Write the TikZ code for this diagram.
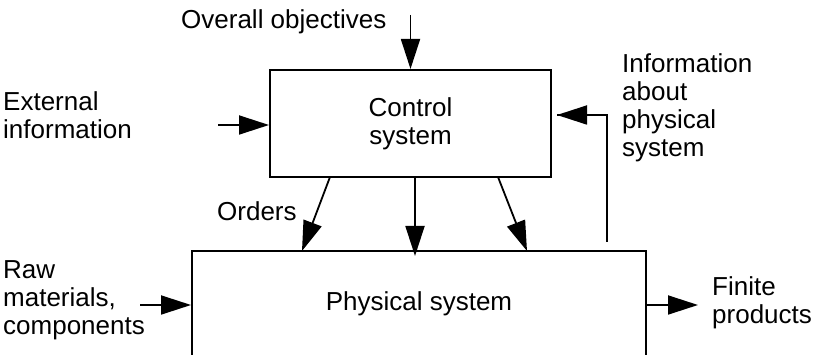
\documentclass[tikz,border=0pt]{standalone}
\usepackage{fontspec}
\setmainfont{Liberation Sans}
\usetikzlibrary{arrows.meta}
\begin{document}
\begin{tikzpicture}[x=1pt,y=-1pt,
  every node/.style={font=\fontsize{26}{28}\selectfont, inner sep=0pt},
  blockbox/.style={draw, line width=2pt, rectangle},
  flow/.style={line width=1.8pt, -{Triangle[length=30pt,width=19pt]}},
  plainline/.style={line width=1.8pt},
  caption/.style={align=left, anchor=base west}]
  \useasboundingbox (0,0) rectangle (815,355);
  \clip (0,0) rectangle (815,355);

  % the two blocks
  \node[blockbox, minimum width=281pt, minimum height=107pt, align=center]
    (ctrl) at (410.5,123.5) {Control\\system};
  \node[blockbox, minimum width=454pt, minimum height=116pt]
    (phys) at (419,309) {};
  \node (physlabel) at (419,304) {Physical system};

  % labels (a multi-line caption sits on the baseline of its last line)
  \node[caption] (objlbl) at (181,29) {Overall objectives};
  \node[caption] (extlbl) at (3,139) {External\\information};
  \node[caption] (fblbl) at (622,157) {Information\\about\\physical\\system};
  \node[caption] (ordlbl) at (217,221) {Orders};
  \node[caption] (rawlbl) at (3,335) {Raw\\materials,\\components};
  \node[caption] (finlbl) at (712,324) {Finite\\products};

  % free ends of the connectors
  \coordinate (objin) at (410.5,15);
  \coordinate (extin) at (218,125);
  \coordinate (rawin) at (140,305);
  \coordinate (finout) at (698,305);
  \coordinate (ordAs) at (330,177);
  \coordinate (ordAt) at (302,251);
  \coordinate (ordBs) at (415,177);
  \coordinate (ordBt) at (415,256);
  \coordinate (ordCs) at (498,177);
  \coordinate (ordCt) at (527,251);
  \coordinate (fbfoot) at (607,242);
  \coordinate (fbcorner) at (607,115);
  \coordinate (fbtip) at (557,115);

  % inputs to the control system
  \draw[flow] (objin) -- (ctrl.north);
  \draw[flow] (extin) -- (ctrl.west |- extin);
  \draw[plainline] (fbfoot) -- (fbcorner) -- (fbtip);
  \draw[flow] (fbcorner) -- (fbtip);

  % orders from control to physical system
  \draw[flow] (ordAs) -- (ordAt);
  \draw[flow] (ordBs) -- (ordBt);
  \draw[flow] (ordCs) -- (ordCt);

  % material flow through the physical system
  \draw[flow] (rawin) -- (phys.west |- rawin);
  \draw[flow] (phys.east |- finout) -- (finout);
\end{tikzpicture}
\end{document}
